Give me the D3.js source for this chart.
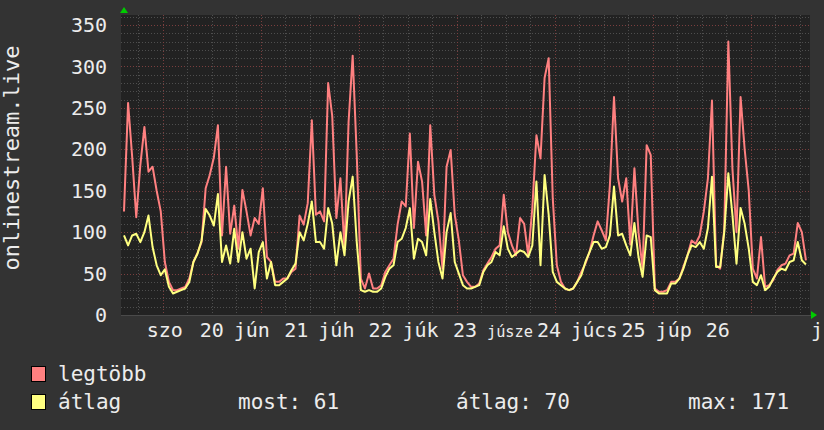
<!DOCTYPE html>
<html lang="hu">
<head>
<meta charset="UTF-8">
<title>onlinestream.live</title>
<script src="https://d3js.org/d3.v7.min.js"></script>
<style>
  html, body { margin: 0; padding: 0; background: #333333; }
  svg text { font-family: "DejaVu Sans Mono", monospace; fill: #ececec; }
</style>
</head>
<body>
<script>

// hourly values, 7 days (168 h)
var legtobb = [
  125, 256, 191, 118, 181, 227, 173, 179, 150, 125, 64, 40, 30, 30, 32, 34, 44, 64, 75, 88, 153, 169, 190, 229,
  96, 179, 98, 132, 80, 151, 125, 96, 117, 110, 153, 70, 64, 40, 40, 44, 44, 52, 56, 120, 109, 135, 235, 121,
  125, 113, 280, 240, 117, 165, 80, 233, 313, 193, 44, 32, 50, 32, 32, 36, 52, 60, 68, 109, 137, 131, 219, 105,
  185, 161, 96, 229, 145, 113, 56, 179, 199, 121, 90, 48, 40, 34, 34, 38, 54, 62, 70, 80, 84, 145, 100, 84,
  72, 117, 110, 72, 129, 217, 189, 286, 310, 141, 60, 40, 32, 30, 32, 40, 52, 62, 76, 96, 113, 102, 90, 157,
  263, 165, 137, 165, 85, 177, 100, 56, 205, 193, 32, 28, 28, 30, 40, 40, 44, 58, 72, 90, 86, 96, 125, 165,
  259, 60, 56, 103, 330, 177, 100, 263, 200, 150, 56, 44, 94, 34, 36, 42, 54, 60, 62, 72, 74, 111, 100, 66
];
var atlag = [
  96, 84, 96, 98, 88, 100, 120, 82, 60, 48, 55, 34, 26, 28, 30, 32, 40, 64, 74, 90, 128, 120, 108, 146,
  64, 84, 62, 104, 64, 100, 68, 80, 32, 76, 88, 44, 64, 36, 36, 40, 44, 54, 62, 100, 90, 110, 137, 88,
  88, 80, 129, 110, 60, 100, 72, 137, 167, 88, 30, 28, 30, 28, 28, 32, 46, 56, 60, 88, 92, 105, 129, 68,
  92, 88, 72, 140, 100, 64, 44, 100, 123, 64, 50, 36, 32, 32, 34, 36, 52, 60, 64, 76, 72, 107, 80, 70,
  74, 78, 76, 70, 84, 161, 60, 169, 121, 52, 40, 36, 32, 30, 32, 40, 48, 64, 76, 88, 88, 80, 82, 96,
  155, 96, 98, 84, 72, 111, 70, 46, 96, 94, 30, 26, 26, 26, 38, 38, 44, 56, 72, 84, 82, 88, 80, 105,
  167, 58, 58, 100, 171, 121, 62, 129, 110, 80, 40, 36, 48, 30, 34, 44, 52, 56, 54, 64, 66, 88, 66, 61
];

var yTicks = [0, 50, 100, 150, 200, 250, 300, 350];
var dayNames = ['szo', 'v', 'h', 'k', 'sze', 'cs', 'p'];
var dayNums = ['20', '21', '22', '23', '24', '25', '26'];
var monthName = 'jún';
var labelHours = [21.5, 42.2, 62.8, 83.5, 104.1, 124.8, 145.4];
var midnightHour = 9.5;

var legendItems = ['legtöbb', 'átlag'];
var legendColors = ['#ff8080', '#ffff80'];
var stats = ['most: 61', 'átlag: 70', 'max: 171'];

var width = 824, height = 430;
var plot = {left: 124, right: 810, top: 15, bottom: 316};
var axisFont = 20;

var svg = d3.select('body').append('svg')
    .attr('width', width).attr('height', height);

svg.append('rect').attr('width', width).attr('height', height).attr('fill', '#333333');

var x = d3.scaleLinear().domain([0, 168]).range([plot.left, plot.right]);
var y = d3.scaleLinear().domain([0, 350]).range([315, 25]);

// canvas
svg.append('rect')
    .attr('x', plot.left - 3).attr('y', plot.top)
    .attr('width', plot.right - plot.left + 3).attr('height', plot.bottom - plot.top)
    .attr('fill', '#222222');

var grid = svg.append('g');

// horizontal grid
d3.range(0, 361, 10).forEach(function (v) {
    var major = v % 50 === 0;
    grid.append('line')
        .attr('x1', plot.left - 3).attr('x2', plot.right)
        .attr('y1', Math.round(y(v)) + 0.5).attr('y2', Math.round(y(v)) + 0.5)
        .attr('stroke', major ? '#7a3e3e' : '#4e4e4e')
        .attr('stroke-dasharray', '1,2');
});

// vertical grid (6h minor, 24h major)
d3.range(midnightHour - 6, 168, 6).forEach(function (h) {
    var major = Math.abs((h - midnightHour) % 24) < 0.01;
    grid.append('line')
        .attr('x1', Math.round(x(h)) + 0.5).attr('x2', Math.round(x(h)) + 0.5)
        .attr('y1', plot.top).attr('y2', 318)
        .attr('stroke', major ? '#7a3e3e' : '#4e4e4e')
        .attr('stroke-dasharray', '1,2');
});

// axes
svg.append('line')
    .attr('x1', plot.left - 3).attr('x2', 812)
    .attr('y1', 315.5).attr('y2', 315.5)
    .attr('stroke', '#4a4a4a');
svg.append('path')
    .attr('d', 'M811,311L817,315L811,319Z').attr('fill', '#00cc00');
svg.append('path')
    .attr('d', 'M120,13L124,7L128,13Z').attr('fill', '#00cc00');

// y labels
svg.append('g').selectAll('text').data(yTicks).enter().append('text')
    .attr('x', 107).attr('y', function (d) { return y(d); })
    .attr('dy', '0.36em')
    .attr('text-anchor', 'end')
    .style('font-size', axisFont + 'px')
    .text(function (d) { return d; });

// x labels: "nap DD hónap", the month of one day runs into the next day's name
var xl = svg.append('g').style('font-size', axisFont + 'px');
labelHours.forEach(function (h, i) {
    var cx = x(h);
    if (i === 0) {
        xl.append('text').attr('x', cx - 47).attr('y', 337).attr('text-anchor', 'middle').text(dayNames[i]);
    }
    xl.append('text').attr('x', cx).attr('y', 337).attr('text-anchor', 'middle').text(dayNums[i]);
    if (i < labelHours.length - 1) {
        var next = dayNames[i + 1];
        var merged = next === 'v' ? monthName : monthName.slice(0, 2) + next;
        var start = cx + 22;
        var avail = x(labelHours[i + 1]) - 16 - start;
        var fs = Math.min(axisFont, avail / (merged.length * 0.602));
        xl.append('text').attr('x', start).attr('y', 337)
            .style('font-size', fs.toFixed(1) + 'px')
            .text(merged);
    }
});
xl.append('text').attr('x', 811).attr('y', 337).text(monthName.charAt(0));

// y title
svg.append('text')
    .attr('transform', 'translate(19,158) rotate(-90)')
    .attr('text-anchor', 'middle')
    .style('font-size', '22px')
    .text('onlinestream.live');

// series
var line = d3.line()
    .x(function (d, i) { return x(i); })
    .y(function (d) { return y(d); });

svg.append('path').datum(legtobb)
    .attr('d', line).attr('fill', 'none')
    .attr('stroke', legendColors[0]).attr('stroke-width', 2)
    .attr('stroke-linejoin', 'round');
svg.append('path').datum(atlag)
    .attr('d', line).attr('fill', 'none')
    .attr('stroke', legendColors[1]).attr('stroke-width', 2)
    .attr('stroke-linejoin', 'round');

// legend
var lg = svg.append('g').style('font-size', '21px');
legendItems.forEach(function (name, i) {
    var ly = 366 + i * 28;
    lg.append('rect').attr('x', 31.5).attr('y', ly + 0.5).attr('width', 14).attr('height', 15)
        .attr('fill', legendColors[i]).attr('stroke', '#000');
    lg.append('text').attr('x', 58).attr('y', ly + 15).text(name);
});
[238, 456, 688].forEach(function (lx, i) {
    lg.append('text').attr('x', lx).attr('y', 409).text(stats[i]);
});

</script>
</body>
</html>
